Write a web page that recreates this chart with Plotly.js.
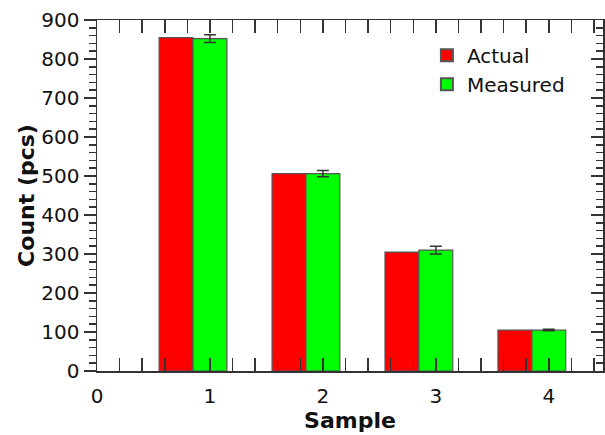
<!DOCTYPE html>
<html>
<head>
<meta charset="utf-8">
<script src="https://cdn.plot.ly/plotly-3.0.1.min.js"></script>
<style>html,body{margin:0;padding:0;background:#fff;}#chart{width:605px;height:435px;}</style>
</head>
<body>
<div id="chart"></div>
<script>
var samples = [1, 2, 3, 4];
var actual = [855, 506, 305, 105];
var measured = [852, 506, 310, 105];
var measuredErr = [10, 8, 10, 2];
var seriesNames = ['Actual', 'Measured'];
var xTickVals = [0, 1, 2, 3, 4];
var yTickVals = [0, 100, 200, 300, 400, 500, 600, 700, 800, 900];

var font = 'DejaVu Sans, Verdana, sans-serif';
var lineCol = '#333';

var traces = [
  {
    type: 'bar', name: seriesNames[0], x: samples, y: actual,
    offset: -0.45, width: 0.3,
    marker: {color: '#ff0000', line: {color: '#555', width: 1.2}},
    hoverinfo: 'x+y'
  },
  {
    type: 'bar', name: seriesNames[1], x: samples, y: measured,
    offset: -0.15, width: 0.3,
    marker: {color: '#00ff00', line: {color: '#555', width: 1.2}},
    error_y: {type: 'data', array: measuredErr, visible: true, color: '#333', thickness: 1.5, width: 6},
    hoverinfo: 'x+y'
  },
  {
    type: 'scatter', x: [null], y: [null], yaxis: 'y2', showlegend: false, hoverinfo: 'skip'
  }
];

var layout = {
  width: 605, height: 435,
  margin: {l: 97, r: 2, t: 20, b: 64},
  paper_bgcolor: '#fff', plot_bgcolor: '#fff',
  barmode: 'overlay',
  font: {family: font, size: 20, color: '#111'},
  showlegend: true,
  legend: {
    x: 0.652, xanchor: 'left', y: 0.955, yanchor: 'top',
    bgcolor: 'rgba(0,0,0,0)', font: {family: font, size: 20, color: '#111'},
    tracegroupgap: 0, itemsizing: 'constant'
  },
  xaxis: {
    range: [0, 4.48], tickmode: 'array', tickvals: xTickVals,
    ticks: 'inside', ticklen: 13, tickwidth: 1.5, tickcolor: lineCol,
    minor: {dtick: 0.2, ticks: 'inside', ticklen: 7, tickwidth: 1.5, tickcolor: lineCol, showgrid: false},
    showline: true, linecolor: lineCol, linewidth: 1.5, mirror: 'allticks',
    showgrid: false, zeroline: false,
    tickfont: {family: font, size: 20, color: '#111'},
    ticklabelstandoff: 6,
    title: {text: '<b>Sample</b>', font: {family: font, size: 22, color: '#111'}, standoff: 6}
  },
  yaxis: {
    range: [0, 900], tickmode: 'array', tickvals: yTickVals,
    ticks: 'outside', ticklen: 12, tickwidth: 1.5, tickcolor: lineCol,
    minor: {dtick: 20, ticks: 'outside', ticklen: 7, tickwidth: 1.5, tickcolor: lineCol, showgrid: false},
    showline: true, linecolor: lineCol, linewidth: 1.5, mirror: true,
    showgrid: false, zeroline: false,
    tickfont: {family: font, size: 20, color: '#111'},
    title: {text: '<b>Count (pcs)</b>', font: {family: font, size: 22, color: '#111'}, standoff: 0}
  },
  yaxis2: {
    overlaying: 'y', side: 'right', anchor: 'x', matches: 'y',
    range: [0, 900], tickmode: 'array', tickvals: yTickVals, showticklabels: false,
    ticks: 'inside', ticklen: 12, tickwidth: 1.5, tickcolor: lineCol,
    minor: {dtick: 20, ticks: 'inside', ticklen: 7, tickwidth: 1.5, tickcolor: lineCol, showgrid: false},
    showline: false, showgrid: false, zeroline: false
  }
};

Plotly.newPlot('chart', traces, layout, {staticPlot: true, displayModeBar: false});
</script>
</body>
</html>
